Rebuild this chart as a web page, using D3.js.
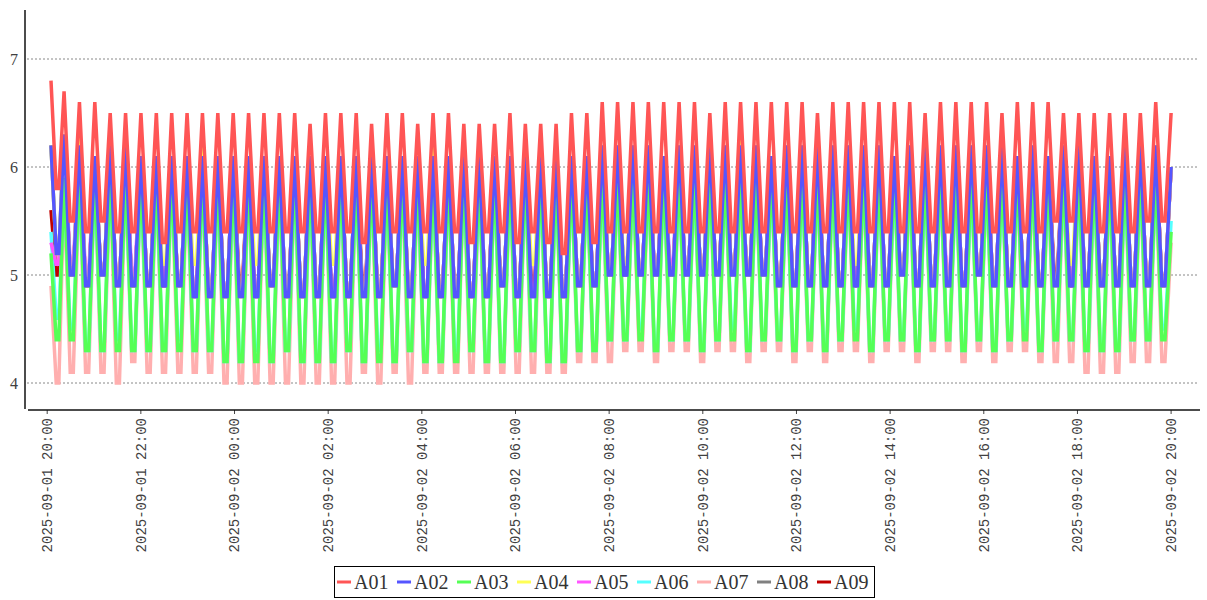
<!DOCTYPE html>
<html><head><meta charset="utf-8">
<script src="https://cdn.jsdelivr.net/npm/d3@7"></script>
<style>body{margin:0;background:#fff} svg{display:block}</style>
</head><body><svg id="c" width="1207" height="600"></svg>
<script>
// ---------- data ----------
const seriesNames  = ["A01","A02","A03","A04","A05","A06","A07","A08","A09"];
const seriesColors = ["#ff5555","#5555ff","#55ff55","#ffff55","#ff55ff","#55ffff","#ffafaf","#808080","#c00000"];
const axisStart = "2025-09-01 20:00:00";
const axisEnd   = "2025-09-02 20:00:00";
const startTime = "2025-09-01 20:05:30";      // first sample
const firstPeakTime = "2025-09-01 20:22:15";  // second peak
const cycleMinutes = 19.7;
const troughHold = [0.4, 0.6];                // trough samples inside each cycle
const yTicks = [4, 5, 6, 7];

// peaks P0..P73 (rows of 10), troughs T0..T72 (rows of 10)
const A01_peaks = [
 6.8,6.7,6.6,6.6,6.5,6.5,6.5,6.5,6.5,6.5,
 6.5,6.5,6.5,6.5,6.5,6.5,6.5,6.4,6.5,6.5,
 6.5,6.4,6.5,6.5,6.4,6.5,6.5,6.4,6.4,6.4,
 6.5,6.4,6.4,6.4,6.5,6.5,6.6,6.6,6.6,6.6,
 6.6,6.6,6.6,6.5,6.6,6.6,6.6,6.6,6.6,6.6,
 6.5,6.6,6.6,6.6,6.6,6.6,6.6,6.5,6.6,6.6,
 6.6,6.6,6.5,6.6,6.6,6.6,6.5,6.5,6.5,6.5,
 6.5,6.5,6.6,6.5];
const A01_troughs = [
 5.8,5.5,5.4,5.5,5.4,5.4,5.4,5.3,5.4,5.4,
 5.4,5.4,5.4,5.4,5.4,5.4,5.4,5.4,5.4,5.4,
 5.3,5.4,5.4,5.4,5.4,5.4,5.4,5.3,5.4,5.4,
 5.3,5.4,5.3,5.2,5.4,5.3,5.4,5.4,5.4,5.4,
 5.4,5.4,5.4,5.4,5.4,5.4,5.4,5.4,5.4,5.4,
 5.4,5.4,5.4,5.4,5.4,5.4,5.4,5.4,5.4,5.4,
 5.4,5.4,5.4,5.4,5.4,5.5,5.5,5.4,5.4,5.4,
 5.4,5.5,5.5];

const A02_peaks = [
 6.2,6.3,6.2,6.1,6.2,6.2,6.1,6.1,6.1,6.1,
 6.1,6.1,6.1,6.1,6.1,6.1,6.1,6.1,6.1,6.1,
 6.1,6.1,6.1,6.1,6.1,6.1,6.1,6.1,6.1,6.1,
 6.1,6.1,6.1,6.1,6.1,6.1,6.2,6.2,6.2,6.2,
 6.1,6.2,6.2,6.2,6.2,6.2,6.2,6.1,6.2,6.2,
 6.2,6.2,6.2,6.2,6.2,6.1,6.2,6.2,6.2,6.2,
 6.2,6.2,6.2,6.1,6.2,6.1,6.2,6.2,6.1,6.1,
 6.2,6.2,6.2,6.0];
const A02_troughs = [
 5.2,5.0,4.9,5.0,4.9,4.9,4.9,4.9,4.9,4.8,
 4.8,4.8,4.8,4.8,4.9,4.8,4.8,4.8,4.8,4.8,
 4.8,4.8,4.9,4.8,4.8,4.8,4.8,4.8,4.8,4.9,
 4.8,4.8,4.8,4.8,4.9,4.9,5.0,5.0,5.0,5.0,
 5.0,5.0,5.0,5.0,5.0,5.0,5.0,4.9,4.9,4.9,
 4.9,4.9,4.9,4.9,4.9,5.0,4.9,4.9,4.9,4.9,
 5.0,4.9,4.9,4.9,4.9,4.9,4.9,4.9,4.9,4.9,
 4.9,4.9,4.9];

const A03_peaks = [
 5.2,5.9,6.0,6.0,6.0,6.0,6.0,6.0,6.0,6.0,
 6.0,6.0,6.0,6.0,6.0,6.0,6.0,6.0,6.0,6.0,
 6.0,6.0,6.0,6.0,6.0,6.0,6.0,6.0,6.0,6.0,
 6.0,6.0,6.0,6.0,6.0,6.0,6.0,6.0,6.0,6.0,
 6.0,6.0,6.0,6.0,6.0,6.0,6.0,6.0,6.0,6.0,
 6.0,6.0,6.0,6.0,6.0,6.0,6.0,6.0,6.0,6.0,
 6.0,6.0,6.0,6.0,6.0,6.0,6.0,6.0,6.0,6.0,
 6.0,6.0,6.0,5.4];
const A03_troughs = [
 4.4,4.4,4.3,4.3,4.3,4.3,4.3,4.3,4.3,4.3,
 4.3,4.2,4.2,4.2,4.2,4.3,4.2,4.2,4.2,4.3,
 4.2,4.2,4.2,4.3,4.2,4.2,4.2,4.3,4.2,4.2,
 4.3,4.3,4.2,4.2,4.3,4.3,4.4,4.4,4.4,4.3,
 4.4,4.4,4.3,4.4,4.4,4.3,4.4,4.4,4.3,4.4,
 4.3,4.4,4.4,4.3,4.4,4.4,4.3,4.4,4.4,4.3,
 4.4,4.3,4.4,4.4,4.3,4.4,4.4,4.3,4.3,4.3,
 4.4,4.4,4.4];

const A04_peaks = [
 6.2,6.3,6.3,6.1,6.2,6.2,6.1,6.1,6.1,6.1,
 6.2,6.1,6.1,6.1,6.1,6.1,6.1,6.1,6.1,6.1,
 6.1,6.1,6.1,6.1,6.1,6.2,6.1,6.1,6.1,6.1,
 6.1,6.1,6.1,6.1,6.1,6.1,6.2,6.2,6.2,6.2,
 6.1,6.2,6.2,6.2,6.2,6.3,6.2,6.1,6.2,6.2,
 6.2,6.2,6.2,6.2,6.2,6.1,6.2,6.2,6.2,6.2,
 6.2,6.2,6.2,6.1,6.2,6.1,6.2,6.3,6.1,6.1,
 6.2,6.2,6.2,6.0];
const A04_troughs = [
 5.2,5.0,4.9,5.0,4.9,4.9,4.9,5.1,4.9,5.1,
 4.8,4.8,4.8,5.1,4.9,4.8,4.8,4.8,5.1,4.8,
 4.8,4.8,4.9,4.8,5.1,4.8,4.8,4.8,4.8,4.9,
 4.8,5.1,4.8,4.8,4.9,4.9,5.0,5.1,5.0,5.0,
 5.0,5.0,5.0,5.0,5.0,5.0,5.0,4.9,4.9,4.9,
 4.9,4.9,5.1,4.9,4.9,5.0,4.9,4.9,4.9,4.9,
 5.0,4.9,4.9,4.9,4.9,4.9,5.1,4.9,4.9,4.9,
 4.9,4.9,4.9];

const A05_peaks = [
 5.3,6.3,6.2,6.1,6.2,6.2,6.1,6.1,6.1,6.1,
 6.1,6.1,6.1,6.1,6.1,6.1,6.1,6.1,6.1,6.1,
 6.1,6.1,6.1,6.1,6.1,6.1,6.1,6.1,6.1,6.1,
 6.1,6.1,6.1,6.1,6.1,6.1,6.2,6.2,6.2,6.2,
 6.1,6.2,6.2,6.2,6.2,6.2,6.2,6.1,6.2,6.2,
 6.2,6.2,6.2,6.2,6.2,6.1,6.2,6.2,6.2,6.2,
 6.2,6.2,6.2,6.1,6.2,6.1,6.2,6.2,6.1,6.1,
 6.2,6.2,6.2,6.0];
const A05_troughs = [
 5.1,5.1,5.0,5.0,4.9,5.0,4.9,4.9,4.9,4.8,
 4.8,4.8,4.8,4.8,4.9,4.8,4.8,4.8,4.8,4.8,
 4.8,4.8,4.9,4.8,4.8,4.8,4.8,4.8,4.8,4.9,
 4.8,4.8,4.8,4.8,4.9,4.9,5.0,5.0,5.0,5.0,
 5.1,5.0,5.0,5.0,5.0,5.0,5.0,4.9,4.9,4.9,
 4.9,4.9,4.9,4.9,4.9,5.0,4.9,4.9,5.0,4.9,
 5.0,4.9,4.9,4.9,4.9,4.9,4.9,4.9,4.9,4.9,
 4.9,4.9,4.9];

const A06_peaks = [
 5.4,5.8,5.9,5.9,5.9,5.9,5.9,5.9,5.9,5.9,
 5.9,5.9,5.9,5.9,5.9,5.9,5.9,5.9,5.9,5.9,
 5.9,5.9,5.9,5.9,5.9,5.9,5.9,5.9,5.9,5.9,
 5.9,5.9,5.9,5.9,5.9,5.9,5.9,5.9,5.9,5.9,
 5.9,5.9,5.9,5.9,5.9,5.9,5.9,5.9,5.9,5.9,
 5.9,5.9,5.9,5.9,5.9,5.9,5.9,5.9,5.9,5.9,
 5.9,5.9,5.9,5.9,5.9,5.9,5.9,5.9,5.9,5.9,
 5.9,5.9,5.9,5.5];
const A06_troughs = [
 4.6,4.5,4.3,4.3,4.4,4.3,4.3,4.3,4.4,4.3,
 4.3,4.2,4.2,4.3,4.2,4.3,4.2,4.2,4.2,4.3,
 4.2,4.3,4.2,4.3,4.2,4.2,4.3,4.3,4.2,4.2,
 4.3,4.3,4.2,4.2,4.3,4.3,4.4,4.4,4.5,4.3,
 4.4,4.4,4.3,4.4,4.5,4.3,4.4,4.4,4.3,4.4,
 4.3,4.4,4.5,4.3,4.4,4.4,4.3,4.4,4.4,4.3,
 4.4,4.3,4.4,4.5,4.3,4.4,4.4,4.3,4.3,4.3,
 4.4,4.4,4.5];

const A07_peaks = [
 4.9,5.8,5.9,5.9,5.9,5.9,5.9,5.9,5.9,5.9,
 5.9,5.9,5.9,5.9,5.9,5.9,5.9,5.9,5.9,5.9,
 5.9,5.9,5.9,5.9,5.9,5.9,5.9,5.9,5.9,5.9,
 5.9,5.9,5.9,5.9,5.9,5.9,5.9,5.9,5.9,5.9,
 5.9,5.9,5.9,5.9,5.9,5.9,5.9,5.9,5.9,5.9,
 5.9,5.9,5.9,5.9,5.9,5.9,5.9,5.9,5.9,5.9,
 5.9,5.9,5.9,5.9,5.9,5.9,5.9,5.9,5.9,5.9,
 5.9,5.9,5.9,5.3];
const A07_troughs = [
 4.0,4.1,4.1,4.1,4.0,4.2,4.1,4.1,4.1,4.1,
 4.1,4.0,4.0,4.0,4.0,4.0,4.0,4.0,4.0,4.0,
 4.1,4.0,4.1,4.0,4.1,4.1,4.1,4.1,4.1,4.1,
 4.1,4.1,4.1,4.1,4.2,4.2,4.2,4.3,4.3,4.2,
 4.3,4.3,4.2,4.3,4.3,4.2,4.3,4.3,4.2,4.3,
 4.2,4.3,4.3,4.2,4.3,4.3,4.2,4.3,4.3,4.2,
 4.3,4.2,4.3,4.3,4.2,4.2,4.2,4.1,4.1,4.1,
 4.2,4.2,4.2];

const A08_peaks = [
 6.2,6.3,6.2,6.1,6.2,6.2,6.1,6.1,6.1,6.1,
 6.1,6.1,6.1,6.1,6.1,6.1,6.1,6.1,6.1,6.1,
 6.1,6.1,6.1,6.1,6.1,6.1,6.1,6.1,6.1,6.1,
 6.1,6.1,6.1,6.1,6.1,6.1,6.2,6.2,6.2,6.2,
 6.1,6.2,6.2,6.2,6.2,6.2,6.2,6.1,6.2,6.2,
 6.2,6.2,6.2,6.2,6.2,6.1,6.2,6.2,6.2,6.2,
 6.2,6.2,6.2,6.1,6.2,6.1,6.2,6.2,6.1,6.1,
 6.2,6.2,6.2,6.0];
const A08_troughs = [
 5.2,5.0,4.9,5.0,4.9,4.9,4.9,4.9,4.9,4.8,
 4.8,4.8,4.8,4.8,4.9,4.8,4.8,4.8,4.8,4.8,
 4.8,4.8,4.9,4.8,4.8,4.8,4.8,4.8,4.8,4.9,
 4.8,4.8,4.8,4.8,4.9,4.9,5.0,5.0,5.0,5.0,
 5.0,5.0,5.0,5.0,5.0,5.0,5.0,4.9,4.9,4.9,
 4.9,4.9,4.9,4.9,4.9,5.0,4.9,4.9,4.9,4.9,
 5.0,4.9,4.9,4.9,4.9,4.9,4.9,4.9,4.9,4.9,
 4.9,4.9,4.9];

const A09_peaks = [
 5.6,6.3,6.2,6.1,6.2,6.2,6.1,6.1,6.1,6.1,
 6.1,6.1,6.1,6.1,6.1,6.1,6.1,6.1,6.1,6.1,
 6.1,6.1,6.1,6.1,6.1,6.1,6.1,6.1,6.1,6.1,
 6.1,6.1,6.1,6.1,6.1,6.1,6.2,6.2,6.2,6.2,
 6.1,6.2,6.2,6.2,6.2,6.2,6.2,6.1,6.2,6.2,
 6.2,6.2,6.2,6.2,6.2,6.1,6.2,6.2,6.2,6.2,
 6.2,6.2,6.2,6.1,6.2,6.1,6.2,6.2,6.1,6.1,
 6.2,6.2,6.2,6.0];
const A09_troughs = [
 5.0,5.0,4.9,5.0,4.9,4.9,4.9,4.9,4.9,4.8,
 4.8,4.8,4.9,4.8,4.9,4.8,4.8,4.8,4.8,4.8,
 4.9,4.8,4.9,4.8,4.8,4.8,4.8,4.8,4.8,4.9,
 4.8,4.9,4.8,4.8,4.9,4.9,5.0,5.0,5.0,5.0,
 5.0,5.0,5.0,5.0,5.0,5.0,5.0,4.9,4.9,4.9,
 4.9,4.9,4.9,4.9,4.9,5.0,4.9,4.9,4.9,4.9,
 5.0,4.9,4.9,4.9,4.9,5.0,4.9,4.9,4.9,4.9,
 4.9,4.9,4.9];

const seriesPeaks   = [A01_peaks,A02_peaks,A03_peaks,A04_peaks,A05_peaks,A06_peaks,A07_peaks,A08_peaks,A09_peaks];
const seriesTroughs = [A01_troughs,A02_troughs,A03_troughs,A04_troughs,A05_troughs,A06_troughs,A07_troughs,A08_troughs,A09_troughs];

// ---------- build ----------
const parse = d3.timeParse("%Y-%m-%d %H:%M:%S");
const tStart = parse(startTime), tFirstPeak = parse(firstPeakTime);
function peakTime(k){ return k === 0 ? tStart : new Date(tFirstPeak.getTime() + (k-1)*cycleMinutes*60000); }
function build(peaks, troughs){
  const pts = [];
  for (let k = 0; k < peaks.length; k++){
    pts.push({t: peakTime(k), v: peaks[k]});
    if (k < troughs.length && k + 1 < peaks.length){
      const a = peakTime(k).getTime(), b = peakTime(k+1).getTime();
      troughHold.forEach(f => pts.push({t: new Date(a + f*(b-a)), v: troughs[k]}));
    }
  }
  return pts;
}
const series = seriesNames.map((n,i) => ({name:n, color:seriesColors[i], pts: build(seriesPeaks[i], seriesTroughs[i])}));

const svg = d3.select("#c");
const x = d3.scaleTime().domain([parse(axisStart), parse(axisEnd)]).range([46.7, 1170.6]);
const y = d3.scaleLinear().domain([4, 7]).range([383, 59]);

// gridlines
svg.append("g").selectAll("line").data(yTicks).join("line")
  .attr("x1", 27).attr("x2", 1197).attr("y1", d => y(d)).attr("y2", d => y(d))
  .attr("stroke", "#888").attr("stroke-width", 1).attr("stroke-dasharray", "2,2");

// series, drawn in reverse order (first series on top)
const line = d3.line().x(d => x(d.t)).y(d => y(d.v));
svg.append("g").selectAll("path").data(series.slice().reverse()).join("path")
  .attr("d", d => line(d.pts)).attr("fill", "none")
  .attr("stroke", d => d.color).attr("stroke-width", 3.5);

// y axis
svg.append("line").attr("x1", 25).attr("x2", 25).attr("y1", 10).attr("y2", 409)
  .attr("stroke", "#111").attr("stroke-width", 1.5);
svg.append("g").selectAll("text").data(yTicks).join("text")
  .attr("x", 18).attr("y", d => y(d)).attr("dy", "0.35em").attr("text-anchor", "end")
  .attr("font-family", "Liberation Serif, DejaVu Serif, serif").attr("font-size", 16)
  .attr("fill", "#404040").text(d => d);

// x axis
const fmt = d3.timeFormat("%Y-%m-%d %H:%M");
const xTickVals = d3.timeHour.every(2).range(parse(axisStart), new Date(parse(axisEnd).getTime() + 1));
const gx = svg.append("g").attr("transform", "translate(0,410)")
  .call(d3.axisBottom(x).tickValues(xTickVals).tickSize(4).tickSizeOuter(0).tickFormat(fmt));
gx.select(".domain").remove();
gx.selectAll(".tick line").attr("stroke", "#444");
gx.selectAll(".tick text")
  .attr("transform", "rotate(-90)").attr("x", -8).attr("y", 0).attr("dy", "0.35em")
  .attr("text-anchor", "end")
  .attr("font-family", "Liberation Mono, DejaVu Sans Mono, monospace").attr("font-size", 14)
  .attr("fill", "#404040");
svg.append("line").attr("x1", 28).attr("x2", 1200).attr("y1", 410).attr("y2", 410)
  .attr("stroke", "#111").attr("stroke-width", 1.5);

// legend
const lg = svg.append("g");
lg.append("rect").attr("x", 334.5).attr("y", 566.5).attr("width", 540).attr("height", 31)
  .attr("fill", "#fff").attr("stroke", "#000").attr("stroke-width", 1);
const items = lg.selectAll("g.it").data(series).join("g").attr("class", "it")
  .attr("transform", (d,i) => `translate(${334 + i*60},582)`);
items.append("line").attr("x1", 3).attr("x2", 17).attr("y1", 0).attr("y2", 0)
  .attr("stroke", d => d.color).attr("stroke-width", 3);
items.append("text").attr("x", 20).attr("y", 0).attr("dy", "0.35em")
  .attr("font-family", "Liberation Serif, DejaVu Serif, serif").attr("font-size", 20)
  .attr("fill", "#333").text(d => d.name);
</script>
</body></html>
